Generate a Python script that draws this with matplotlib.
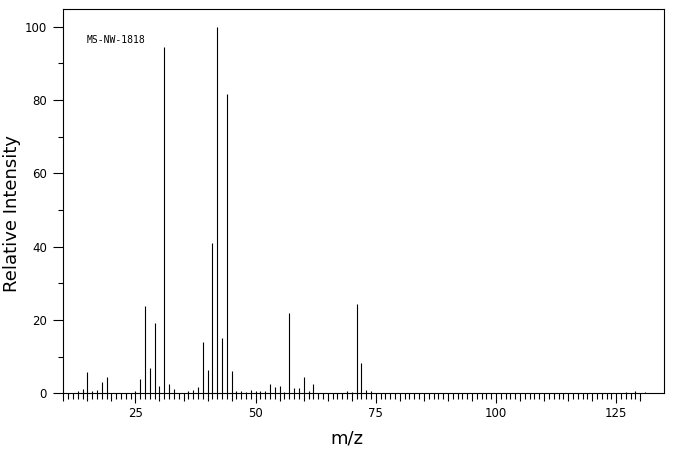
#!/usr/bin/env python3
"""Mass spectrum stick plot (MS-NW-1818), relative intensity vs m/z."""

import matplotlib
matplotlib.use('Agg')
import matplotlib.pyplot as plt
from matplotlib.ticker import FixedLocator, NullFormatter

# peak positions (m/z) and relative intensities
MZ = [13, 14, 15, 16, 17, 18, 19, 25, 26, 27, 28, 29, 30, 31, 32, 33,
      36, 37, 38, 39, 40, 41, 42, 43, 44, 45, 46, 47, 48, 49, 50, 51,
      52, 53, 54, 55, 56, 57, 58, 59, 60, 61, 62, 69, 70, 71, 72, 73,
      74, 127, 129, 131]
INTENSITY = [0.5, 1.2, 5.8, 0.5, 0.9, 3.1, 4.5, 0.5, 3.9, 23.7, 6.9, 19.2,
             2.0, 94.3, 2.6, 1.2, 0.5, 0.9, 1.7, 14.1, 6.4, 40.9, 100.0,
             15.2, 81.6, 6.1, 0.5, 0.6, 0.4, 0.9, 0.6, 0.6, 0.6, 2.4, 1.7,
             2.0, 0.4, 22.0, 1.5, 1.5, 4.5, 0.6, 2.6, 0.6, 0.4, 24.4, 8.3,
             0.9, 0.5, 0.3, 0.5, 0.3]

X_MAJOR = [25, 50, 75, 100, 125]
X_MEDIUM = [10, 15, 20, 30, 35, 40, 45, 55, 60, 65, 70, 80, 85, 90, 95,
            105, 110, 115, 120, 130]
X_MINOR = [v for v in range(10, 131) if v % 5 != 0]
Y_MAJOR = [0, 20, 40, 60, 80, 100]
Y_MINOR = [10, 30, 50, 70, 90]

SPECTRUM_ID = 'MS-NW-1818'

LW = 0.8


def main() -> None:
    fig = plt.figure(figsize=(6.76, 4.55), dpi=100)
    ax = fig.add_axes([63.3 / 676, 1 - 393.3 / 455, 601 / 676, 384 / 455])

    ax.vlines(MZ, 0, INTENSITY, color='black', linewidth=LW)

    ax.set_xlim(10, 135)
    ax.set_ylim(0, 104.7)

    for sp in ax.spines.values():
        sp.set_linewidth(LW)
        sp.set_color('black')

    ax.xaxis.set_major_locator(FixedLocator(X_MAJOR))
    ax.xaxis.set_minor_locator(FixedLocator(X_MINOR))
    ax.yaxis.set_major_locator(FixedLocator(Y_MAJOR))
    ax.yaxis.set_minor_locator(FixedLocator(Y_MINOR))

    ax.tick_params(axis='x', which='major', direction='out', length=7.2,
                   width=LW, pad=2.5, labelsize=8.5)
    ax.tick_params(axis='x', which='minor', direction='out', length=4.1,
                   width=LW)
    ax.tick_params(axis='y', which='major', direction='out', length=7.2,
                   width=LW, pad=4.5, labelsize=8.5)
    ax.tick_params(axis='y', which='minor', direction='out', length=3.6,
                   width=LW)

    # medium-length ticks every 5 units
    sec = ax.secondary_xaxis('bottom')
    sec.set_xticks(X_MEDIUM)
    sec.xaxis.set_major_formatter(NullFormatter())
    sec.tick_params(axis='x', direction='out', length=5.5, width=LW)
    sec.spines['bottom'].set_visible(False)

    ax.set_xlabel('m/z', fontsize=13)
    ax.xaxis.set_label_coords(0.472, -0.117)
    ax.set_ylabel('Relative Intensity', fontsize=13)
    ax.yaxis.set_label_coords(-0.085, 0.468)
    ax.xaxis.label.set_verticalalignment('center')
    ax.yaxis.label.set_verticalalignment('center')

    ax.text(14.9, 96.2, SPECTRUM_ID, family='DejaVu Sans Mono', fontsize=7,
            va='center', ha='left')

    fig.savefig('out.png', dpi=100, facecolor='white')
    plt.close(fig)


if __name__ == '__main__':
    main()
